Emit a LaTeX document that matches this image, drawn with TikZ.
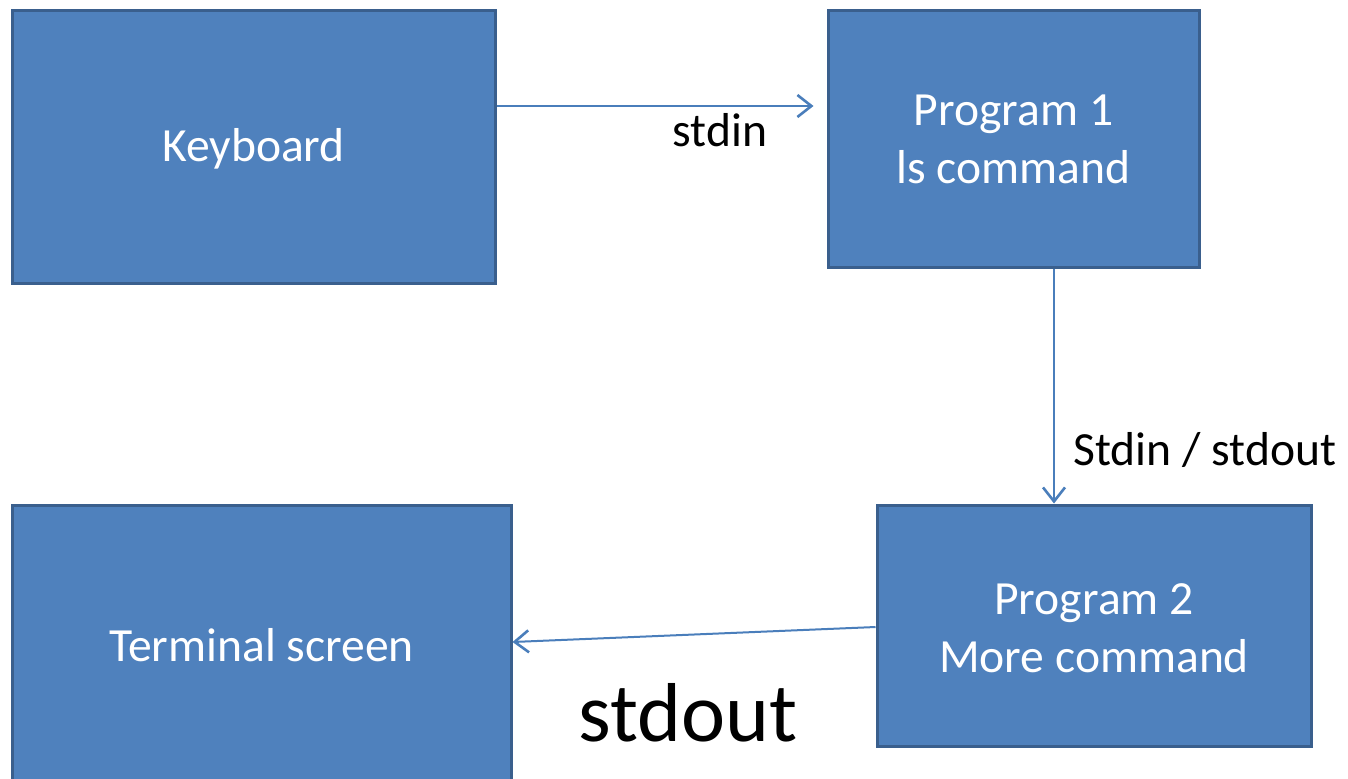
\documentclass[tikz,border=0pt]{standalone}
\usepackage{fontspec}
\setmainfont{Carlito}
\usetikzlibrary{arrows.meta,calc}
\definecolor{boxfill}{HTML}{4F81BD}
\definecolor{boxedge}{HTML}{3A5F8D}
\definecolor{flow}{HTML}{4A7EBB}
\tikzset{
  block/.style={draw=boxedge, line width=1.5pt, fill=boxfill, text=white,
    font=\fontsize{23.8}{29}\selectfont, align=center, inner sep=0pt},
  flowarrow/.style={draw=flow, line width=1pt,
    -{Straight Barb[length=7pt,width=11pt,line width=1.3pt]}},
  lbl/.style={font=\fontsize{23.8}{29}\selectfont, inner sep=0pt},
  biglbl/.style={font=\fontsize{41.8}{50}\selectfont, inner sep=0pt}
}
\begin{document}
\begin{tikzpicture}[x=0.5pt,y=-0.5pt]
  \useasboundingbox (0,0) rectangle (1348,778);
  \begin{scope}
    \clip (0,0) rectangle (1348,778);
    \node[block, minimum width=241.5pt, minimum height=136.5pt] (kb) at (253.5,146.5) {};
    \node[block, minimum width=185.5pt, minimum height=128.5pt] (p1) at (1013.5,138.5) {};
    \node[block, minimum width=217pt, minimum height=120.5pt] (p2) at (1094,625.5) {};
    \node[block, minimum width=249.5pt, minimum height=138.5pt] (term) at (261.5,643.5) {};
  \end{scope}
  % box captions, set slightly below the geometric centres
  \node[block, draw=none, fill=none] (kbt) at ($(kb.center)+(0,2)$) {Keyboard};
  \node[block, draw=none, fill=none] (p1t) at ($(p1.center)+(0,1)$) {Program 1\\ls command};
  \node[block, draw=none, fill=none] (p2t) at ($(p2.center)+(0,3)$) {Program 2\\More command};
  \node[block, draw=none, fill=none] (termt) at ($(term.center)+(0,1.5)$) {Terminal screen};

  % keyboard feeds program 1
  \coordinate (a1) at ($(kb.east)+(0,-40.5)$);
  \draw[flowarrow] (a1) -- ($(p1.west |- a1)+(-13,0)$);
  \node[lbl] (l1) at (720,130) {stdin};

  % program 1 pipes into program 2
  \coordinate (a2) at ($(p1.south)+(40.5,0)$);
  \draw[flowarrow] (a2) -- (a2 |- p2.north);
  \node[lbl] (l2) at (1205,450) {Stdin / stdout};

  % program 2 writes to the terminal
  \draw[flowarrow] ($(p2.west)+(0,1.5)$) -- ($(term.east)+(0,-1.5)$);
  \node[biglbl] (l3) at (688,713) {stdout};
\end{tikzpicture}
\end{document}
